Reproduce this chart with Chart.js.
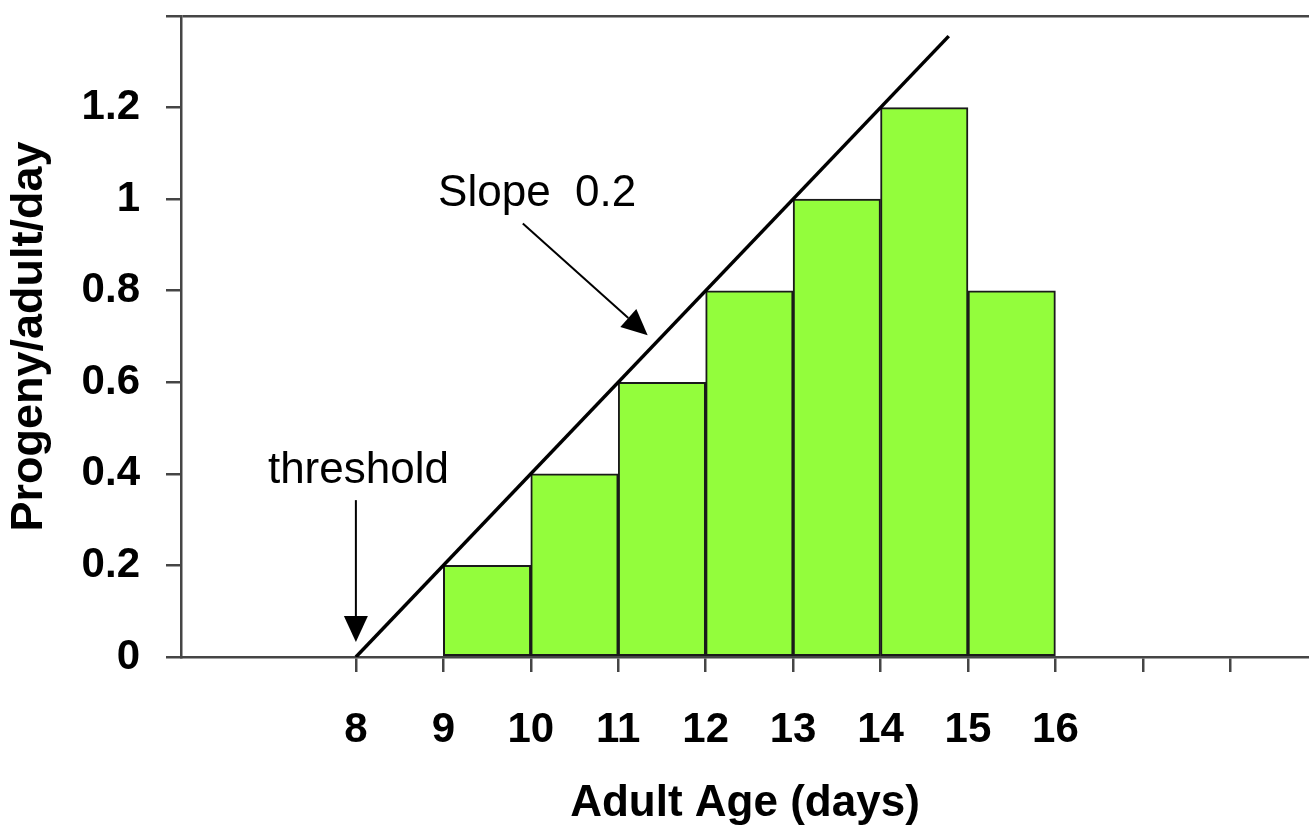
<!DOCTYPE html>
<html>
<head>
<meta charset="utf-8">
<script src="https://cdn.jsdelivr.net/npm/chart.js@4"></script>
<style>
  html, body { margin: 0; padding: 0; background: #fff; }
  #wrap { width: 1309px; height: 827px; }
</style>
</head>
<body>
<div id="wrap"><canvas id="fecundityChart" width="1309" height="827"></canvas></div>
<script>
// data
var ageStart = [9, 10, 11, 12, 13, 14, 15];          // each bar covers [age, age+1)
var progeny = [0.2, 0.4, 0.6, 0.8, 1.0, 1.2, 0.8];
var threshold = 8;
var slope = 0.2;
var lineEndAge = 14.78;
var xLabels = [8, 9, 10, 11, 12, 13, 14, 15, 16];
var yLabels = [0, 0.2, 0.4, 0.6, 0.8, 1, 1.2];

var FONT = '"Liberation Sans", Arial, sans-serif';
var axisColor = '#454545';
var barGreen = '#93fd3c';

var barData = ageStart.map(function (a, i) {
    return { x: a + 0.5, y: progeny[i] };
});
var lineData = [
    { x: threshold, y: 0 },
    { x: lineEndAge, y: slope * (lineEndAge - threshold) }
];

function yLabelFor(v) {
    for (var i = 0; i < yLabels.length; i++) {
        if (Math.abs(yLabels[i] - v) < 1e-6) return String(yLabels[i]);
    }
    return '';
}

function arrow(c, x1, y1, x2, y2) {
    var ang = Math.atan2(y2 - y1, x2 - x1);
    var len = 26, hw = 12;
    var bx = x2 - len * Math.cos(ang), by = y2 - len * Math.sin(ang);
    c.beginPath();
    c.moveTo(x1, y1);
    c.lineTo(bx, by);
    c.stroke();
    c.beginPath();
    c.moveTo(x2, y2);
    c.lineTo(bx + hw * Math.sin(ang), by - hw * Math.cos(ang));
    c.lineTo(bx - hw * Math.sin(ang), by + hw * Math.cos(ang));
    c.closePath();
    c.fill();
}

// text labels and arrows, placed in data coordinates
var notes = {
    id: 'notes',
    afterDatasetsDraw: function (chart) {
        var c = chart.ctx, xs = chart.scales.x, ys = chart.scales.y;
        var px = function (v) { return xs.getPixelForValue(v); };
        var py = function (v) { return ys.getPixelForValue(v); };
        c.save();
        c.fillStyle = '#000';
        c.strokeStyle = '#000';
        c.lineWidth = 2;
        c.font = '44px ' + FONT;
        c.textBaseline = 'alphabetic';
        c.textAlign = 'left';
        c.fillText('Slope  0.2', px(8.94), py(0.986));
        c.fillText('threshold', px(6.994), py(0.380));
        arrow(c, px(9.909), py(0.947), px(11.337), py(0.7026));
        arrow(c, px(threshold), py(0.3426), px(threshold), py(0.0327));
        c.restore();
    }
};

var ctx = document.getElementById('fecundityChart').getContext('2d');
var fecundityChart = new Chart(ctx, {
    type: 'bar',
    data: {
        datasets: [{
            type: 'line',
            data: lineData,
            borderColor: '#000',
            borderWidth: 3.5,
            pointRadius: 0,
            fill: false,
            order: 0
        }, {
            type: 'bar',
            data: barData,
            backgroundColor: barGreen,
            borderColor: '#1a1a1a',
            borderWidth: 2,
            borderSkipped: false,
            barPercentage: 1,
            categoryPercentage: 1,
            order: 1
        }]
    },
    plugins: [notes],
    options: {
        responsive: false,
        animation: false,
        layout: { padding: { top: 16, right: 0, left: 0, bottom: 0 } },
        plugins: {
            legend: { display: false },
            tooltip: { enabled: false }
        },
        scales: {
            x: {
                type: 'linear',
                offset: false,
                min: 6,
                max: 18.9,
                afterFit: function (s) { s.height = 170; },
                border: { color: axisColor, width: 2.5 },
                grid: {
                    offset: false,
                    drawOnChartArea: false,
                    drawTicks: true,
                    tickLength: 15,
                    lineWidth: 2.5,
                    color: function (c) { return c.tick && c.tick.value >= 8 ? axisColor : 'rgba(0,0,0,0)'; }
                },
                ticks: {
                    stepSize: 1,
                    includeBounds: false,
                    maxRotation: 0,
                    autoSkip: false,
                    padding: 33,
                    color: '#000',
                    font: { family: FONT, size: 42, weight: 'bold' },
                    callback: function (v) { return xLabels.indexOf(v) >= 0 ? String(v) : ''; }
                },
                title: {
                    display: true,
                    text: 'Adult Age (days)',
                    color: '#000',
                    font: { family: FONT, size: 44, weight: 'bold' },
                    padding: { top: 0, bottom: -3 }
                }
            },
            y: {
                min: 0,
                max: 1.4,
                afterFit: function (s) {
                    s.width = 181;
                    // labels never reach the top edge, so no extra room is needed there
                    s.paddingTop = 0;
                    s.paddingBottom = 0;
                },
                border: { color: axisColor, width: 2.5 },
                grid: {
                    offset: false,
                    drawTicks: true,
                    tickLength: 15,
                    lineWidth: 2.5,
                    tickColor: axisColor,
                    color: function (c) { return c.tick && Math.abs(c.tick.value - 1.4) < 1e-6 ? axisColor : 'rgba(0,0,0,0)'; }
                },
                ticks: {
                    stepSize: 0.2,
                    padding: 26,
                    color: '#000',
                    font: { family: FONT, size: 42, weight: 'bold' },
                    callback: function (v) { return yLabelFor(v); }
                },
                title: {
                    display: true,
                    text: 'Progeny/adult/day',
                    color: '#000',
                    font: { family: FONT, size: 45, weight: 'bold' },
                    padding: { top: 3, bottom: 0 }
                }
            }
        }
    }
});
</script>
</body>
</html>
